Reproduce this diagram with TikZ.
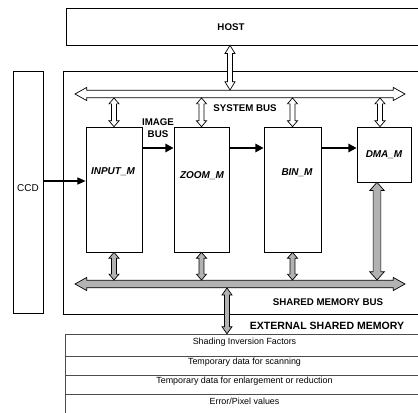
\documentclass[tikz,border=0pt]{standalone}
\usepackage{fontspec}
\setmainfont{Liberation Sans}
\usetikzlibrary{arrows.meta, calc, fit, positioning}

% sizes of the fat double-headed bus arrows
\tikzset{
  hlen/.store in=\hlen, hwid/.store in=\hwid, swid/.store in=\swid,
  hlen=5pt, hwid=4.3pt, swid=2.2pt
}
% fat double arrow between two points
\newcommand{\dbus}[3][]{%
  \draw[#1] (#2)
    -- ($(#2)!\hlen!(#3)!\hwid!90:(#3)$)
    -- ($(#2)!\hlen!(#3)!\swid!90:(#3)$)
    -- ($(#3)!\hlen!(#2)!\swid!-90:(#2)$)
    -- ($(#3)!\hlen!(#2)!\hwid!-90:(#2)$)
    -- (#3)
    -- ($(#3)!\hlen!(#2)!\hwid!90:(#2)$)
    -- ($(#3)!\hlen!(#2)!\swid!90:(#2)$)
    -- ($(#2)!\hlen!(#3)!\swid!-90:(#3)$)
    -- ($(#2)!\hlen!(#3)!\hwid!-90:(#3)$)
    -- cycle;}

\begin{document}
\begin{tikzpicture}[x=0.3mm, y=-0.3mm, line width=0.6pt,
  box/.style={draw, inner sep=0pt},
  row/.style={draw=black!70, line width=0.4pt, inner sep=0pt,
    font=\fontsize{7.6}{9}\selectfont},
  buslbl/.style={font=\fontsize{8.3}{10}\selectfont\bfseries},
  modlbl/.style={font=\fontsize{8.5}{10}\selectfont\bfseries\itshape},
  sysbus/.style={draw, fill=white, hlen=10pt, hwid=5.6pt, swid=3.2pt},
  membus/.style={draw, fill=gray!60, hlen=10pt, hwid=5.6pt, swid=3.2pt},
  systap/.style={draw, fill=white, hlen=5pt, hwid=4.3pt, swid=2.1pt},
  memtap/.style={draw, fill=gray!60, hlen=5pt, hwid=4.3pt, swid=2.1pt},
  imgbus/.style={line width=2pt, -{Triangle[length=7pt, width=7pt]}},
  ccdlink/.style={line width=0.9pt, -{Triangle[length=7pt, width=6pt]}}]
  \useasboundingbox (0,0) rectangle (418,412);
  \clip (0,0) rectangle (418,412);

  % boxes
  \node[box, fit={(66,8) (440,45)}] (host) {};
  \node[buslbl] (hostlbl) at (231,27) {HOST};
  \node[box, fit={(63,71) (440,314)}] (chip) {};
  \node[box, fit={(13,71) (43,313)}, font=\fontsize{8.5}{10}\selectfont] (ccd) {CCD};

  % modules
  \node[box, fit={(86,127) (142,252)}] (input) {};
  \node[box, fit={(174,127) (229,252)}] (zoom) {};
  \node[box, fit={(264,127) (321,252)}] (bin) {};
  \node[box, fit={(357,127) (411,182)}] (dma) {};
  \node[modlbl] (inputlbl) at (113,172) {INPUT\_M};
  \node[modlbl] (zoomlbl) at (202,176) {ZOOM\_M};
  \node[modlbl] (binlbl) at (297,173) {BIN\_M};
  \node[modlbl] (dmalbl) at (384,155) {DMA\_M};

  % external memory (rows run off the right edge)
  \node[row, fit={(65,334) (424,356)}] (mem1) {Shading Inversion Factors};
  \node[row, fit={(65,356) (424,375)}] (mem2) {Temporary data for scanning};
  \node[row, fit={(65,375) (424,394)}] (mem3) {Temporary data for enlargement or reduction};
  \node[row, fit={(65,394) (424,416)}] (mem4) {Error/Pixel values};

  % bus labels
  \node[buslbl] (syslbl) at (245,108) {SYSTEM BUS};
  \node[buslbl, align=center] (imglbl) at (158,128) {IMAGE\\BUS};
  \node[buslbl] (memlbl) at (328,302) {SHARED MEMORY BUS};
  \node[buslbl, font=\fontsize{9}{10}\selectfont\bfseries] (extlbl) at (327,326)
    {EXTERNAL SHARED MEMORY};

  % bus end points
  \coordinate (sysL) at (75,94);
  \coordinate (sysR) at (405,94);
  \coordinate (memL) at (75,284);
  \coordinate (memR) at (405,284);
  \coordinate (hostbus) at (230,90);
  \coordinate (hostdn) at (host.south -| hostbus);
  \coordinate (sin) at (input.north |- 0,98);
  \coordinate (szo) at (zoom.north |- 0,98);
  \coordinate (sbi) at (bin.north |- 0,98);
  \coordinate (sdm) at (380,98);
  \coordinate (dmatop) at (dma.north -| sdm);
  \coordinate (min) at (input.south |- 0,280);
  \coordinate (mzo) at (zoom.south |- 0,280);
  \coordinate (mbi) at (bin.south |- 0,280);
  \coordinate (mdm) at (377,280);
  \coordinate (dmabot) at (dma.south -| mdm);
  \coordinate (mext) at (227,288);
  \coordinate (memtop) at (mem1.north -| mext);
  \coordinate (ccdy) at (0,181);
  \coordinate (imgy) at (0,148);

  % system bus
  \dbus[sysbus]{sysL}{sysR}
  \dbus[systap, hlen=7pt]{hostdn}{hostbus}
  \dbus[systap]{sin}{input.north}
  \dbus[systap]{szo}{zoom.north}
  \dbus[systap]{sbi}{bin.north}
  \dbus[systap]{sdm}{dmatop}

  % shared memory bus
  \dbus[membus]{memL}{memR}
  \dbus[memtap]{input.south}{min}
  \dbus[memtap]{zoom.south}{mzo}
  \dbus[memtap]{bin.south}{mbi}
  \dbus[memtap, hlen=7pt, hwid=6.2pt, swid=3.3pt]{dmabot}{mdm}
  \dbus[memtap, hlen=6pt]{mext}{memtop}

  % image bus and CCD input
  \draw[imgbus] (input.east |- imgy) -- (zoom.west |- imgy);
  \draw[imgbus] (zoom.east |- imgy) -- (bin.west |- imgy);
  \draw[imgbus] (bin.east |- imgy) -- (dma.west |- imgy);
  \draw[ccdlink] (ccd.east |- ccdy) -- (input.west |- ccdy);
\end{tikzpicture}
\end{document}
